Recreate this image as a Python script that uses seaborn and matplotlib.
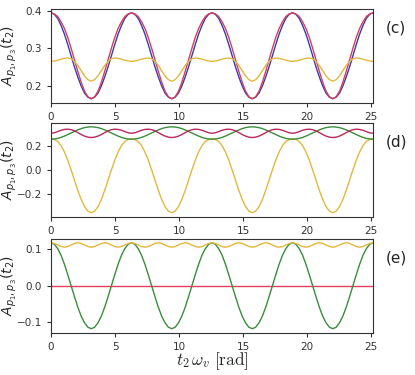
import matplotlib
matplotlib.use("Agg")
import matplotlib.pyplot as plt
import numpy as np
import pandas as pd
import seaborn as sns

N_PERIODS = 4
STEP = np.pi / 12

C_BLUE_PERIOD = [0.395, 0.391, 0.380, 0.361, 0.338, 0.310, 0.280, 0.250, 0.223, 0.199, 0.180, 0.169,
                 0.165, 0.169, 0.180, 0.199, 0.223, 0.250, 0.280, 0.310, 0.338, 0.361, 0.380, 0.391]
C_RED_PERIOD = [0.395, 0.392, 0.385, 0.371, 0.353, 0.329, 0.300, 0.269, 0.238, 0.209, 0.185, 0.170,
                0.165, 0.170, 0.185, 0.209, 0.238, 0.269, 0.300, 0.329, 0.353, 0.371, 0.385, 0.392]
C_YELLOW_PERIOD = [0.265, 0.266, 0.268, 0.271, 0.273, 0.274, 0.272, 0.265, 0.254, 0.240, 0.226, 0.216,
                   0.212, 0.216, 0.226, 0.240, 0.254, 0.265, 0.272, 0.274, 0.273, 0.271, 0.268, 0.266]

D_RED_PERIOD = [0.308, 0.312, 0.322, 0.333, 0.340, 0.342, 0.338, 0.328, 0.313, 0.297, 0.284, 0.275,
                0.272, 0.275, 0.284, 0.297, 0.313, 0.328, 0.338, 0.342, 0.340, 0.333, 0.322, 0.312]
D_GREEN_PERIOD = [0.258, 0.260, 0.265, 0.273, 0.284, 0.297, 0.310, 0.323, 0.336, 0.347, 0.355, 0.360,
                  0.362, 0.360, 0.355, 0.347, 0.336, 0.323, 0.310, 0.297, 0.284, 0.273, 0.265, 0.260]
D_YELLOW_PERIOD = [0.260, 0.256, 0.239, 0.204, 0.150, 0.081, 0.000, -0.087, -0.173, -0.249, -0.309, -0.347,
                   -0.360, -0.347, -0.309, -0.249, -0.173, -0.087, 0.000, 0.081, 0.150, 0.204, 0.239, 0.256]

E_RED_PERIOD = [0.0] * 24
E_GREEN_PERIOD = [0.117, 0.113, 0.101, 0.083, 0.0585, 0.030, 0.0, -0.030, -0.0585, -0.083, -0.101, -0.113,
                  -0.117, -0.113, -0.101, -0.083, -0.0585, -0.030, 0.0, 0.030, 0.0585, 0.083, 0.101, 0.113]
E_YELLOW_PERIOD = [0.117, 0.1152, 0.111, 0.1068, 0.105, 0.1068, 0.111, 0.1152] * 3

PANEL_LABELS = ["(c)", "(d)", "(e)"]
X_TICKS = [0, 5, 10, 15, 20, 25]
Y_TICKS = [[0.2, 0.3, 0.4], [-0.2, 0.0, 0.2], [-0.1, 0.0, 0.1]]

BLUE = "#3a3ab4"
RED_C = "#d4405a"
YELLOW = "#e2b83e"
GREEN = "#3b8c3b"
RED_D = "#b8285c"
RED_E = "#e2405c"


def full(period):
    return period * N_PERIODS + period[:1]


x = np.arange(24 * N_PERIODS + 1) * STEP

panels = [
    [(C_BLUE_PERIOD, BLUE), (C_RED_PERIOD, RED_C), (C_YELLOW_PERIOD, YELLOW)],
    [(D_YELLOW_PERIOD, YELLOW), (D_GREEN_PERIOD, GREEN), (D_RED_PERIOD, RED_D)],
    [(E_RED_PERIOD, RED_E), (E_GREEN_PERIOD, GREEN), (E_YELLOW_PERIOD, YELLOW)],
]

sns.set_style("ticks")
plt.rcParams["font.family"] = ["DejaVu Sans"]
plt.rcParams["axes.unicode_minus"] = True

fig = plt.figure(figsize=(4.15, 3.75), dpi=100)
bottoms = [0.7253, 0.4213, 0.112]
for i, curves in enumerate(panels):
    ax = fig.add_axes([0.1229, bottoms[i], 0.776, 0.2520])
    for period, color in curves:
        df = pd.DataFrame({"x": x, "y": full(period)})
        sns.lineplot(data=df, x="x", y="y", color=color, lw=1.0, ax=ax,
                     estimator=None, sort=False)
    ax.set_xlim(0, 8 * np.pi)
    ax.set_xticks(X_TICKS)
    ax.set_yticks(Y_TICKS[i])
    ax.tick_params(labelsize=7.5, length=3, width=0.8, colors="#333333")
    for sp in ax.spines.values():
        sp.set_linewidth(0.8)
        sp.set_color("#333333")
    ax.set_ylabel(r"$A_{p_1,p_3}(t_2)$", fontsize=10)
    ax.yaxis.set_label_coords(-0.1, 0.5)
    ax.set_xlabel("")
    ax.text(1.04, 0.79, PANEL_LABELS[i], transform=ax.transAxes, fontsize=11,
            ha="left", va="center", color="#222222")
    if i == 2:
        ax.set_xlabel(r"$t_2\,\omega_v\;[\mathrm{rad}]$", fontsize=12.5,
                      math_fontfamily="cm", labelpad=-1)

fig.savefig("out.png", dpi=100)
